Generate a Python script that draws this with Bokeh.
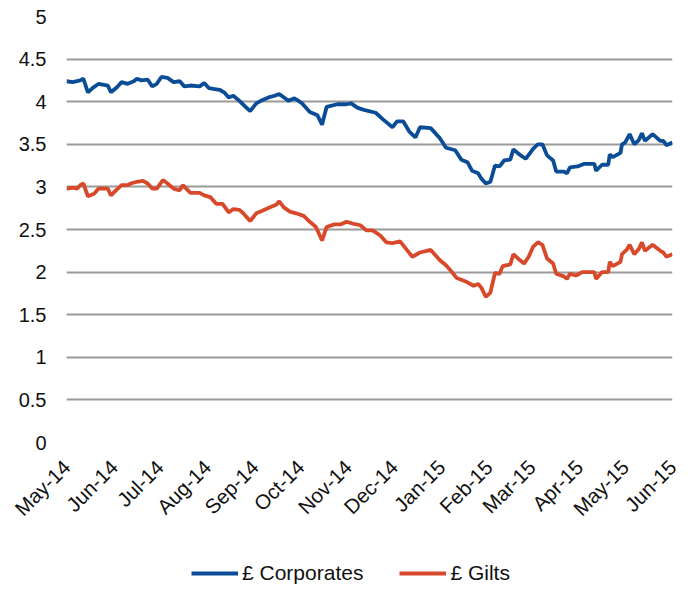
from datetime import datetime
import pandas as pd
from bokeh.plotting import figure
from bokeh.layouts import column
from bokeh.models import (Range1d, MonthsTicker, DatetimeTickFormatter, Legend,
                          LegendItem, ColumnDataSource)
from bokeh.embed import file_html
from bokeh.resources import INLINE
import math

# ---------------- data ----------------
corp_dates = ["2014-05-01", "2014-05-05", "2014-05-10", "2014-05-12", "2014-05-15", "2014-05-18",
              "2014-05-22", "2014-05-28", "2014-05-30", "2014-06-03", "2014-06-06", "2014-06-10",
              "2014-06-14", "2014-06-16", "2014-06-19", "2014-06-23", "2014-06-26", "2014-06-29",
              "2014-07-02", "2014-07-06", "2014-07-10", "2014-07-14", "2014-07-17", "2014-07-21",
              "2014-07-27", "2014-07-30", "2014-08-02", "2014-08-05", "2014-08-09", "2014-08-12",
              "2014-08-15", "2014-08-18", "2014-08-22", "2014-08-26", "2014-08-29", "2014-09-02",
              "2014-09-05", "2014-09-10", "2014-09-14", "2014-09-17", "2014-09-23", "2014-09-27",
              "2014-10-02", "2014-10-07", "2014-10-12", "2014-10-15", "2014-10-18", "2014-10-25",
              "2014-10-31", "2014-11-03", "2014-11-07", "2014-11-12", "2014-11-19", "2014-11-24",
              "2014-11-30", "2014-12-03", "2014-12-07", "2014-12-11", "2014-12-15", "2014-12-18",
              "2014-12-25", "2014-12-31", "2015-01-04", "2015-01-10", "2015-01-14", "2015-01-18",
              "2015-01-21", "2015-01-25", "2015-01-27", "2015-01-30", "2015-02-02", "2015-02-05",
              "2015-02-08", "2015-02-11", "2015-02-15", "2015-02-17", "2015-02-21", "2015-02-25",
              "2015-02-28", "2015-03-02", "2015-03-05", "2015-03-08", "2015-03-11", "2015-03-15",
              "2015-03-17", "2015-03-22", "2015-03-24", "2015-03-26", "2015-03-31", "2015-04-04",
              "2015-04-11", "2015-04-12", "2015-04-16", "2015-04-20", "2015-04-21", "2015-04-23",
              "2015-04-28", "2015-04-29", "2015-05-01", "2015-05-04", "2015-05-07", "2015-05-10",
              "2015-05-12", "2015-05-14", "2015-05-19", "2015-05-24", "2015-05-26", "2015-05-28",
              "2015-06-01"]
corp_values = [4.24, 4.23, 4.25, 4.27, 4.11, 4.16,
               4.21, 4.19, 4.11, 4.17, 4.23, 4.21,
               4.24, 4.27, 4.25, 4.26, 4.18, 4.21,
               4.29, 4.28, 4.23, 4.24, 4.18, 4.19,
               4.18, 4.22, 4.16, 4.15, 4.14, 4.11,
               4.05, 4.07, 4.01, 3.94, 3.89, 3.98,
               4.01, 4.05, 4.07, 4.09, 4.01, 4.04,
               3.98, 3.88, 3.84, 3.73, 3.94, 3.97,
               3.97, 3.98, 3.93, 3.90, 3.87, 3.79,
               3.70, 3.77, 3.77, 3.65, 3.58, 3.70,
               3.69, 3.57, 3.46, 3.43, 3.32, 3.29,
               3.19, 3.16, 3.10, 3.04, 3.06, 3.25,
               3.24, 3.31, 3.32, 3.44, 3.38, 3.33,
               3.40, 3.45, 3.50, 3.50, 3.37, 3.31,
               3.18, 3.18, 3.16, 3.23, 3.24, 3.27,
               3.27, 3.19, 3.26, 3.26, 3.38, 3.35,
               3.40, 3.50, 3.52, 3.62, 3.50, 3.55,
               3.63, 3.54, 3.62, 3.54, 3.54, 3.49,
               3.52]

gilt_dates = ["2014-05-01", "2014-05-05", "2014-05-08", "2014-05-10", "2014-05-12", "2014-05-15",
              "2014-05-19", "2014-05-22", "2014-05-28", "2014-05-30", "2014-06-03", "2014-06-06",
              "2014-06-10", "2014-06-12", "2014-06-16", "2014-06-20", "2014-06-23", "2014-06-26",
              "2014-06-29", "2014-07-03", "2014-07-06", "2014-07-10", "2014-07-14", "2014-07-16",
              "2014-07-21", "2014-07-27", "2014-07-30", "2014-08-03", "2014-08-07", "2014-08-11",
              "2014-08-15", "2014-08-18", "2014-08-22", "2014-08-24", "2014-08-29", "2014-09-02",
              "2014-09-06", "2014-09-11", "2014-09-15", "2014-09-17", "2014-09-20", "2014-09-24",
              "2014-09-28", "2014-10-03", "2014-10-07", "2014-10-11", "2014-10-15", "2014-10-18",
              "2014-10-23", "2014-10-27", "2014-10-31", "2014-11-04", "2014-11-09", "2014-11-13",
              "2014-11-17", "2014-11-22", "2014-11-26", "2014-11-30", "2014-12-05", "2014-12-09",
              "2014-12-13", "2014-12-18", "2014-12-25", "2014-12-31", "2015-01-04", "2015-01-07",
              "2015-01-11", "2015-01-14", "2015-01-18", "2015-01-22", "2015-01-25", "2015-01-27",
              "2015-01-30", "2015-02-02", "2015-02-05", "2015-02-08", "2015-02-10", "2015-02-15",
              "2015-02-17", "2015-02-20", "2015-02-24", "2015-02-27", "2015-03-02", "2015-03-05",
              "2015-03-08", "2015-03-11", "2015-03-15", "2015-03-17", "2015-03-22", "2015-03-24",
              "2015-03-26", "2015-03-30", "2015-04-03", "2015-04-11", "2015-04-12", "2015-04-16",
              "2015-04-20", "2015-04-21", "2015-04-23", "2015-04-28", "2015-04-29", "2015-05-02",
              "2015-05-04", "2015-05-07", "2015-05-10", "2015-05-12", "2015-05-14", "2015-05-19",
              "2015-05-24", "2015-05-26", "2015-05-28", "2015-06-01"]
gilt_values = [2.98, 2.99, 2.98, 3.02, 3.04, 2.89,
               2.92, 2.98, 2.98, 2.90, 2.97, 3.02,
               3.02, 3.04, 3.06, 3.07, 3.04, 2.98,
               2.98, 3.08, 3.04, 2.98, 2.96, 3.02,
               2.93, 2.93, 2.90, 2.88, 2.80, 2.80,
               2.70, 2.74, 2.73, 2.70, 2.60, 2.69,
               2.72, 2.76, 2.79, 2.83, 2.76, 2.71,
               2.69, 2.66, 2.59, 2.53, 2.37, 2.53,
               2.56, 2.56, 2.59, 2.57, 2.55, 2.49,
               2.49, 2.43, 2.35, 2.34, 2.36, 2.27,
               2.18, 2.23, 2.26, 2.14, 2.08, 2.02,
               1.93, 1.91, 1.88, 1.84, 1.86, 1.82,
               1.71, 1.76, 1.99, 1.98, 2.07, 2.09,
               2.21, 2.16, 2.10, 2.18, 2.30, 2.35,
               2.32, 2.16, 2.10, 1.98, 1.95, 1.92,
               1.98, 1.96, 2.00, 2.00, 1.92, 2.00,
               2.00, 2.12, 2.07, 2.12, 2.21, 2.26,
               2.32, 2.21, 2.27, 2.35, 2.25, 2.32,
               2.25, 2.23, 2.18, 2.21]

series_names = ["\u00a3 Corporates", "\u00a3 Gilts"]
series_colors = ["#0B4C97", "#D8492B"]
y_ticks = [0, 0.5, 1, 1.5, 2, 2.5, 3, 3.5, 4, 4.5, 5]

FONT = "Liberation Sans"
LW = 3.8

corp_src = ColumnDataSource(dict(x=pd.to_datetime(corp_dates), y=corp_values))
gilt_src = ColumnDataSource(dict(x=pd.to_datetime(gilt_dates), y=gilt_values))

# ---------------- main chart ----------------
p = figure(width=690, height=540, output_backend="svg", toolbar_location=None,
           x_axis_type="datetime",
           x_range=Range1d(datetime(2014, 5, 1), datetime(2015, 6, 1)),
           y_range=Range1d(0, 5),
           min_border_left=66, min_border_right=18, min_border_top=16, min_border_bottom=98)
p.outline_line_color = None
p.background_fill_color = "white"
p.border_fill_color = "white"

p.line("x", "y", source=corp_src, line_color=series_colors[0], line_width=LW)
p.line("x", "y", source=gilt_src, line_color=series_colors[1], line_width=LW)

p.xgrid.grid_line_color = None
p.ygrid.grid_line_color = "#9a9a9a"
p.ygrid.grid_line_width = 2
p.yaxis.ticker = y_ticks

p.yaxis.axis_line_color = None
p.yaxis.major_tick_line_color = None
p.yaxis.minor_tick_line_color = None
p.yaxis.major_label_standoff = 14
p.yaxis.major_label_text_font = FONT
p.yaxis.major_label_text_font_size = "20px"
p.yaxis.major_label_text_color = "#111111"

p.xaxis.ticker = MonthsTicker(months=list(range(12)))
p.xaxis.formatter = DatetimeTickFormatter(months="%b-%y", days="%b-%y", years="%b-%y")
p.xaxis.axis_line_color = None
p.xaxis.major_tick_line_color = None
p.xaxis.minor_tick_line_color = None
p.xaxis.major_label_orientation = math.pi / 4
p.xaxis.major_label_standoff = 15
p.xaxis.major_label_text_font = FONT
p.xaxis.major_label_text_font_size = "20.5px"
p.xaxis.major_label_text_color = "#111111"

# ---------------- legend strip ----------------
# (same series drawn in a strip whose ranges keep them out of view; only the legend shows)
leg = figure(width=690, height=49, output_backend="svg", toolbar_location=None,
             x_range=Range1d(0, 1), y_range=Range1d(0, 1),
             x_axis_location=None, y_axis_location=None,
             min_border_left=0, min_border_right=0, min_border_top=0, min_border_bottom=0)
leg.outline_line_color = None
leg.xgrid.visible = False
leg.ygrid.visible = False
lr1 = leg.line("x", "y", source=corp_src, line_color=series_colors[0], line_width=LW)
lr2 = leg.line("x", "y", source=gilt_src, line_color=series_colors[1], line_width=LW)
legend = Legend(items=[LegendItem(label=series_names[0], renderers=[lr1]),
                       LegendItem(label=series_names[1], renderers=[lr2])],
                orientation="horizontal", location=(125, 4),
                border_line_color=None, background_fill_alpha=0,
                label_text_font=FONT, label_text_font_size="21px",
                label_text_color="#111111",
                glyph_width=47, glyph_height=14, label_standoff=4, spacing=36,
                margin=0, padding=0)
leg.add_layout(legend, "center")

layout = column(p, leg, spacing=0)
open("out.html", "w").write(file_html(layout, INLINE))
